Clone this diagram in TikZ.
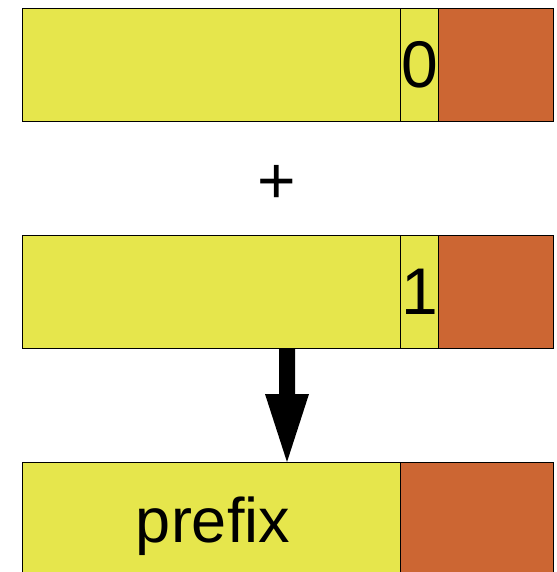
\documentclass[tikz,border=0pt]{standalone}
\usepackage{fontspec}
\setmainfont{Liberation Sans}
\definecolor{yel}{HTML}{E6E64C}
\definecolor{ora}{HTML}{CC6633}
\begin{document}
\begin{tikzpicture}[x=1pt,y=-1pt,
  cell/.style={draw=black,line width=1pt,inner sep=0pt,outer sep=0pt,anchor=north west},
  big/.style={font=\fontsize{66}{66}\selectfont}]
\useasboundingbox (0,0) rectangle (556,572);
% row 1
\node[cell,fill=yel,minimum width=378pt,minimum height=113pt] (a1) at (22,9) {};
\node[cell,fill=yel,minimum width=38pt,minimum height=113pt] (b1) at (400,9) {};
\node[cell,fill=ora,minimum width=115pt,minimum height=113pt] (c1) at (438,9) {};
\node[big,anchor=base] (t0) at (420,88) {0};
% plus
\node[big,anchor=base] (plus) at (277,203) {+};
% row 2
\node[cell,fill=yel,minimum width=378pt,minimum height=113pt] (a2) at (22,235) {};
\node[cell,fill=yel,minimum width=38pt,minimum height=113pt] (b2) at (400,235) {};
\node[cell,fill=ora,minimum width=115pt,minimum height=113pt] (c2) at (438,235) {};
\node[big,anchor=base] (t1) at (420,314) {1};
% row 3
\node[cell,fill=yel,minimum width=378pt,minimum height=115pt] (a3) at (22,462) {};
\node[cell,fill=ora,minimum width=153pt,minimum height=115pt] (c3) at (400,462) {};
\node[font=\fontsize{63}{63}\selectfont,anchor=base] (tp) at (213,542) {prefix};
% arrow
\fill[black] (279,348) -- (295,348) -- (295,394) -- (309,394) -- (287,462) -- (265,394) -- (279,394) -- cycle;
\end{tikzpicture}
\end{document}
